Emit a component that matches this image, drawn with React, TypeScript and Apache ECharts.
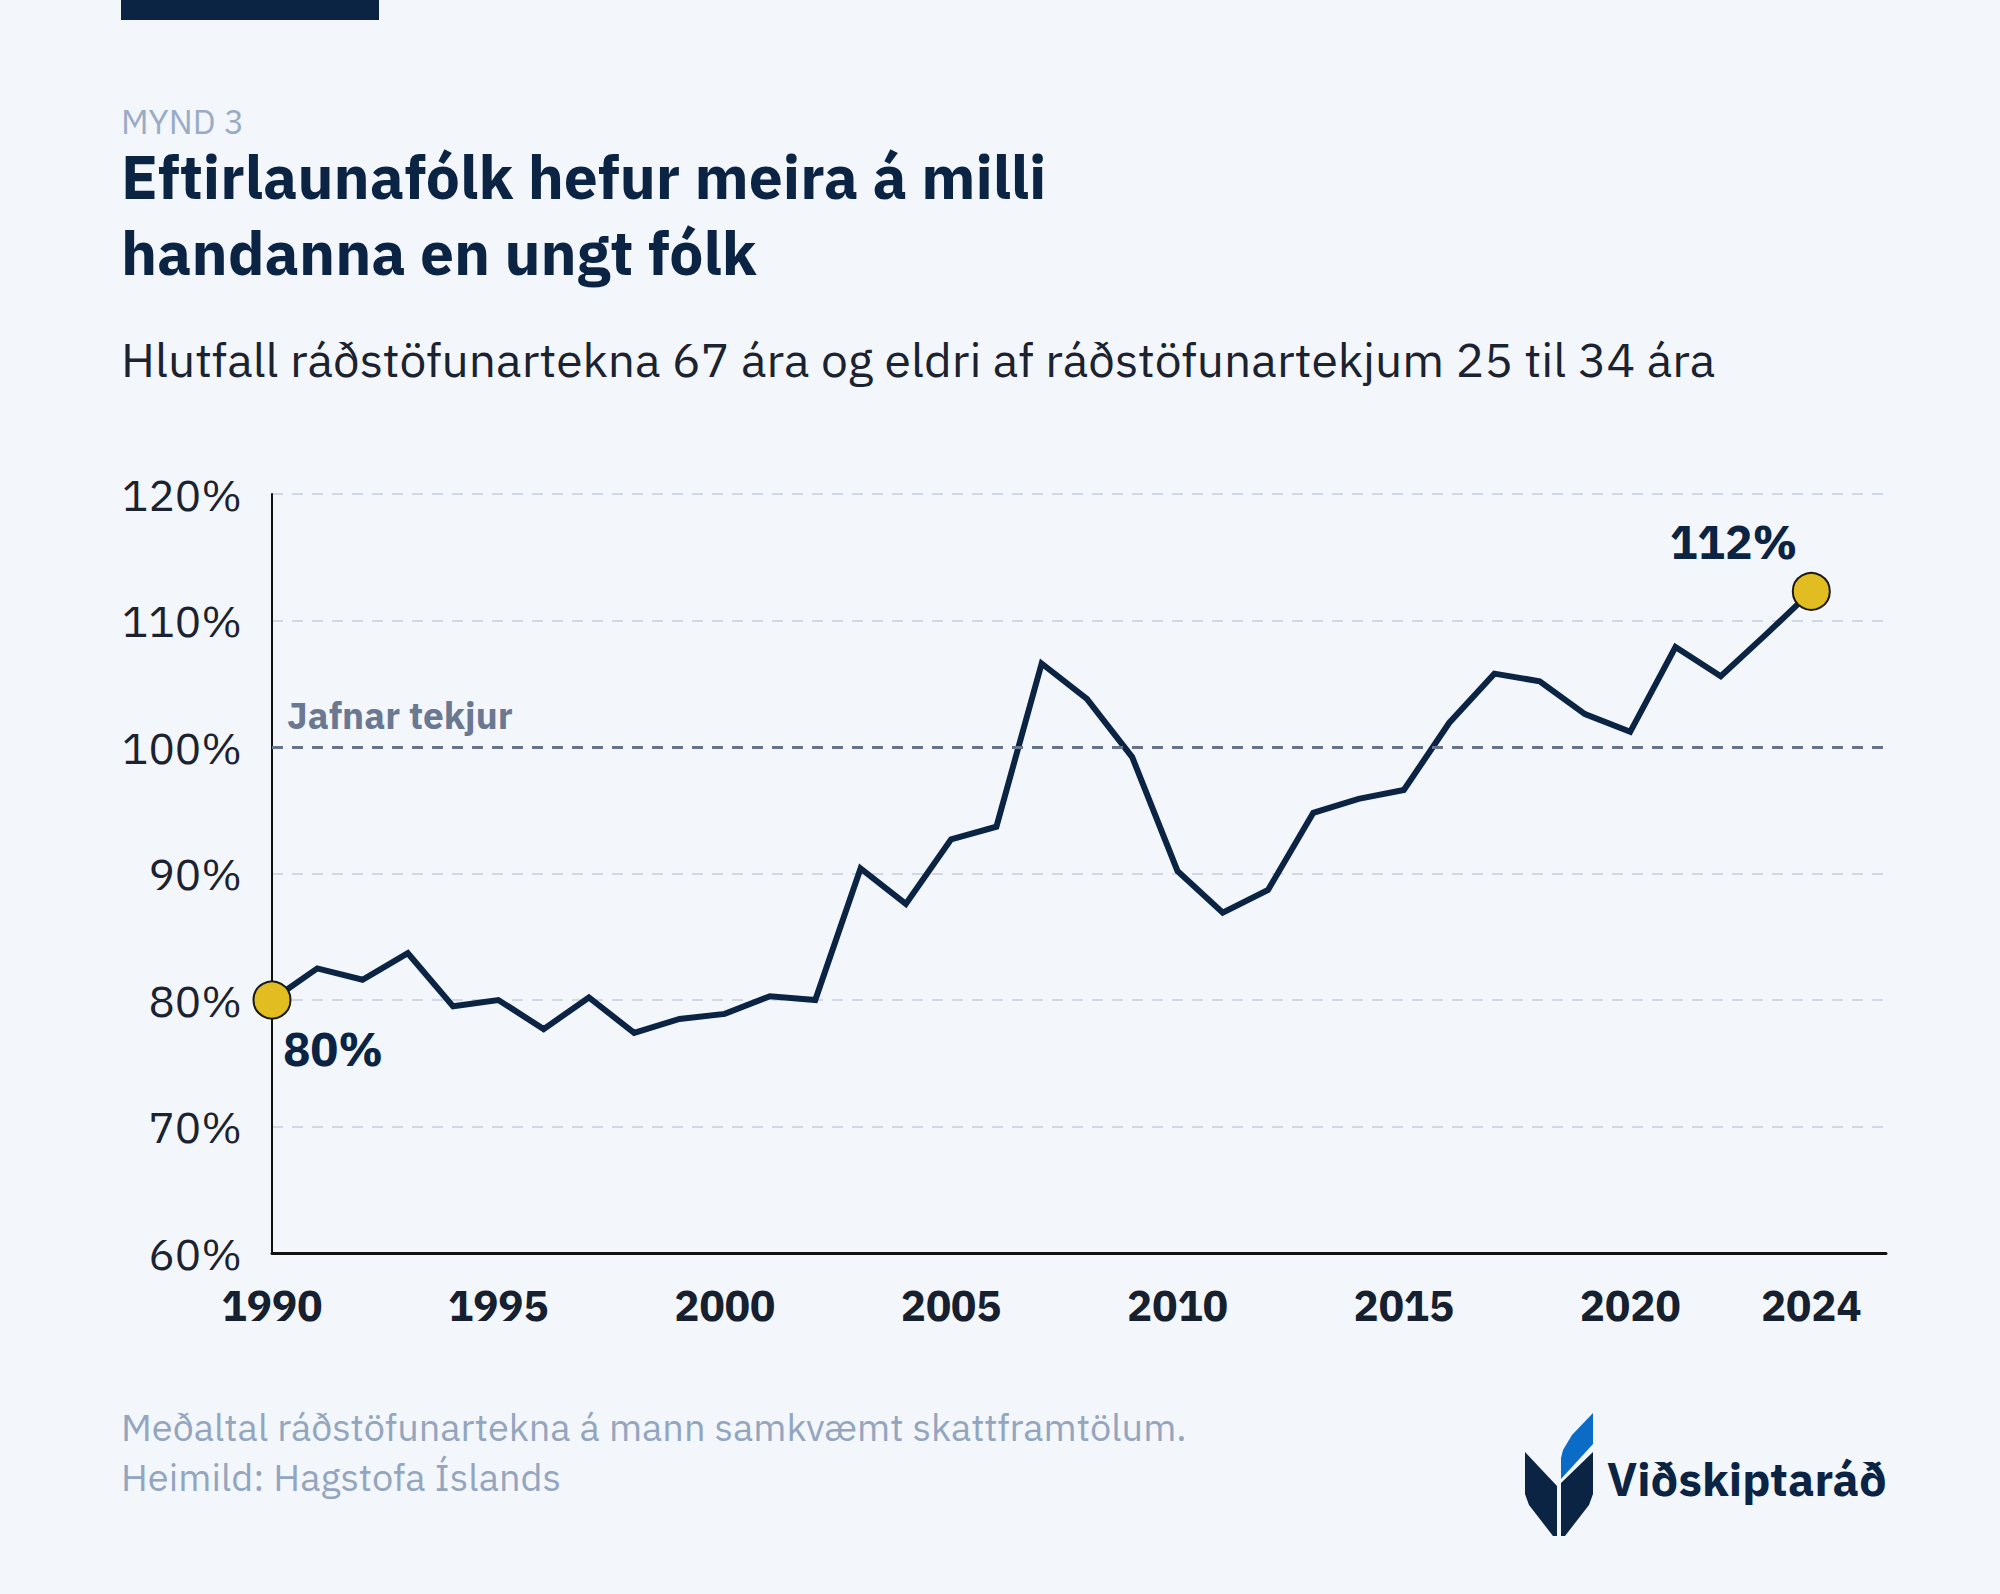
import React, { useEffect, useRef } from "react";
import * as echarts from "echarts";

const years: number[] = [
  1990, 1991, 1992, 1993, 1994, 1995, 1996, 1997, 1998, 1999,
  2000, 2001, 2002, 2003, 2004, 2005, 2006, 2007, 2008, 2009,
  2010, 2011, 2012, 2013, 2014, 2015, 2016, 2017, 2018, 2019,
  2020, 2021, 2022, 2023, 2024,
];
const ratio: number[] = [
  80.0, 82.5, 81.6, 83.7, 79.5, 80.0, 77.7, 80.2, 77.4, 78.5,
  78.9, 80.3, 80.0, 90.4, 87.6, 92.7, 93.7, 106.6, 103.8, 99.2,
  90.2, 86.9, 88.7, 94.8, 95.9, 96.6, 101.9, 105.8, 105.2, 102.6,
  101.2, 107.9, 105.6, 108.9, 112.3,
];
const xTickYears: number[] = [1990, 1995, 2000, 2005, 2010, 2015, 2020, 2024];
const equalIncome = 100;
const equalLabel = "Jafnar tekjur";

const figLabel = "MYND 3";
const titleLines: string[] = ["Eftirlaunafólk hefur meira á milli", "handanna en ungt fólk"];
const subtitle = "Hlutfall ráðstöfunartekna 67 ára og eldri af ráðstöfunartekjum 25 til 34 ára";
const footLines: string[] = [
  "Meðaltal ráðstöfunartekna á mann samkvæmt skattframtölum.",
  "Heimild: Hagstofa Íslands",
];
const brand = "Viðskiptaráð";

const FONT = "'IBM Plex Sans', Roboto, 'Noto Sans', sans-serif";
const NAVY = "#0b2444";
const BG = "#f3f7fc";

export default function App() {
  const ref = useRef<HTMLDivElement>(null);
  useEffect(() => {
    if (!ref.current) return;
    const chart = echarts.init(ref.current, undefined, { renderer: "svg" });
    const pts = years.map((y, i) => [y, ratio[i]]);
    const first = pts[0];
    const last = pts[pts.length - 1];
    chart.setOption({
      animation: false,
      backgroundColor: BG,
      textStyle: { fontFamily: FONT },
      grid: { left: 272, right: 114, top: 494, bottom: 341, containLabel: false, outerBoundsMode: "none" },
      xAxis: {
        type: "value",
        min: 1990,
        max: 2025.65,
        axisLine: { show: true, lineStyle: { color: "#111111", width: 3 } },
        axisTick: { show: false },
        splitLine: { show: false },
        axisLabel: {
          customValues: xTickYears,
          formatter: (v: number) => String(v),
          fontSize: 42,
          fontWeight: "bold",
          color: "#16202e",
          margin: 31,
          fontFamily: FONT,
        },
      },
      yAxis: {
        type: "value",
        min: 60,
        max: 120,
        interval: 10,
        axisLine: { show: true, lineStyle: { color: "#111111", width: 2 } },
        axisTick: { show: false },
        splitLine: { show: true, lineStyle: { color: "#cfd8e4", width: 2, type: [11, 9] } },
        axisLabel: {
          formatter: "{value}%",
          fontSize: 44,
          color: "#1b2230",
          margin: 30,
          fontFamily: FONT,
        },
      },
      series: [
        {
          type: "line",
          data: pts,
          showSymbol: false,
          symbol: "none",
          lineStyle: { color: NAVY, width: 6, join: "miter" },
          z: 3,
          markLine: {
            silent: true,
            symbol: ["none", "none"],
            data: [{ yAxis: equalIncome }],
            lineStyle: { color: "#67738b", width: 3, type: [11, 9] },
            label: {
              show: true,
              position: "insideStartTop",
              formatter: equalLabel,
              fontSize: 37,
              fontWeight: "bold",
              color: "#6b7891",
              distance: [15, 14],
              fontFamily: FONT,
            },
          },
        },
        {
          type: "scatter",
          symbol: "circle",
          symbolSize: 37,
          itemStyle: { color: "#e2bd22", borderColor: "#1a1a1a", borderWidth: 2, opacity: 1 },
          z: 5,
          label: {
            show: true,
            position: "inside",
            formatter: (p: any) => Math.round(p.value[1]) + "%",
            fontSize: 46,
            fontWeight: "bold",
            color: NAVY,
            verticalAlign: "middle",
            fontFamily: FONT,
          },
          emphasis: { disabled: true },
          data: [
            { value: first, label: { align: "left", offset: [11, 49] } },
            { value: last, label: { align: "right", offset: [-14, -49] } },
          ],
        },
      ],
      graphic: [
        { type: "rect", shape: { x: 121, y: 0, width: 258, height: 20 }, style: { fill: NAVY } },
        {
          type: "text",
          x: 121, y: 121,
          style: { text: figLabel, font: `400 34px ${FONT}`, lineHeight: 26, fill: "#9aabc4", verticalAlign: "middle" },
        },
        {
          type: "text",
          x: 121, y: 176,
          style: { text: titleLines[0], font: `bold 60.6px ${FONT}`, lineHeight: 50, fill: NAVY, verticalAlign: "middle" },
        },
        {
          type: "text",
          x: 121, y: 252,
          style: { text: titleLines[1], font: `bold 60.6px ${FONT}`, lineHeight: 50, fill: NAVY, verticalAlign: "middle" },
        },
        {
          type: "text",
          x: 121, y: 359,
          style: { text: subtitle, font: `400 48px ${FONT}`, fill: "#1b2230", verticalAlign: "middle" },
        },
        {
          type: "text",
          x: 121, y: 1426,
          style: { text: footLines[0], font: `400 38px ${FONT}`, lineHeight: 38, fill: "#94a6bf", verticalAlign: "middle" },
        },
        {
          type: "text",
          x: 121, y: 1476,
          style: { text: footLines[1], font: `400 38px ${FONT}`, lineHeight: 38, fill: "#94a6bf", verticalAlign: "middle" },
        },
        {
          type: "polygon",
          shape: { points: [[1525, 1452], [1557, 1486], [1557, 1536], [1553, 1536], [1529, 1505], [1525, 1494]] },
          style: { fill: NAVY },
        },
        {
          type: "polygon",
          shape: { points: [[1561, 1483], [1593, 1452], [1593, 1494], [1589, 1505], [1565, 1536], [1561, 1536]] },
          style: { fill: NAVY },
        },
        {
          type: "polygon",
          shape: { points: [[1561, 1479], [1593, 1444], [1593, 1413], [1572, 1435], [1563, 1450], [1561, 1458]] },
          style: { fill: "#0a6cc6" },
        },
        {
          type: "text",
          x: 1607, y: 1478,
          style: { text: brand, font: `bold 46.5px ${FONT}`, fill: NAVY, verticalAlign: "middle" },
        },
      ],
    });
    return () => chart.dispose();
  }, []);
  return (
    <div
      ref={ref}
      style={{ position: "absolute", left: 0, top: 0, width: 2000, height: 1594 }}
    />
  );
}
